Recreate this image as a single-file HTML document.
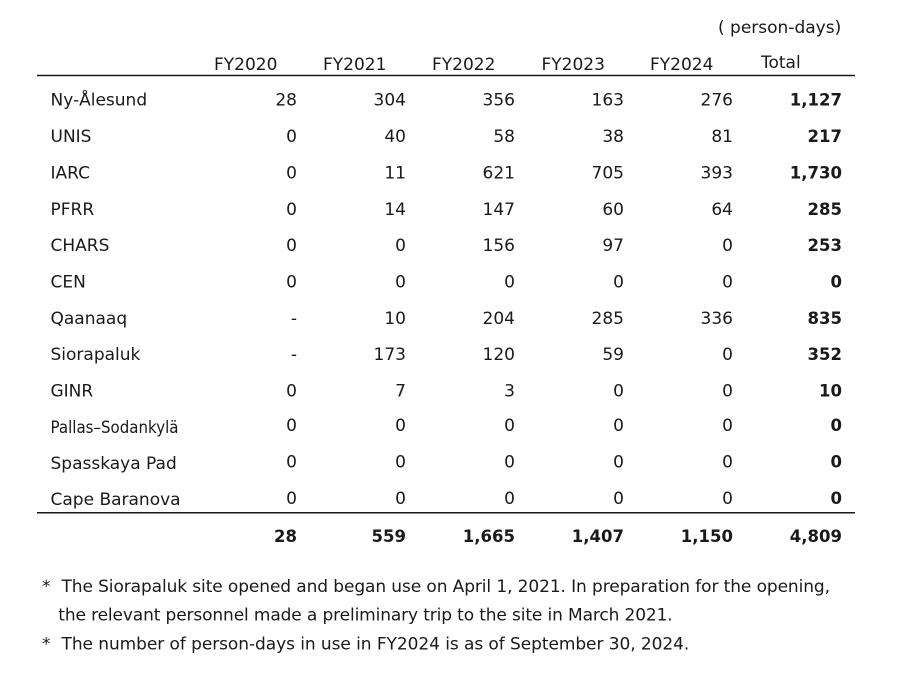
<!DOCTYPE html>
<html>
<head>
<meta charset="utf-8">
<style>
  html, body { margin:0; padding:0; background:#fff; }
  svg { display:block; }
  text { font-family: "DejaVu Sans", "Liberation Sans", sans-serif; font-size:17px; fill:#1a1a1a; }
  .n { text-anchor:end; }
  .b { font-weight:bold; font-size:16.5px; }
</style>
</head>
<body>
<svg width="900" height="683" viewBox="0 0 900 683" xmlns="http://www.w3.org/2000/svg">
  <text x="718" y="33">( person-days)</text>

  <text x="214" y="70">FY2020</text>
  <text x="323" y="70">FY2021</text>
  <text x="432" y="70">FY2022</text>
  <text x="541.5" y="70">FY2023</text>
  <text x="650" y="70">FY2024</text>
  <text x="761" y="68">Total</text>

  <line x1="37" y1="75.5" x2="855" y2="75.5" stroke="#1a1a1a" stroke-width="1.5"/>

  <!-- rows -->
  <g>
    <text x="50.5" y="105.7">Ny-Ålesund</text>
    <text class="n" x="297" y="105.7">28</text>
    <text class="n" x="406" y="105.7">304</text>
    <text class="n" x="515" y="105.7">356</text>
    <text class="n" x="624" y="105.7">163</text>
    <text class="n" x="733" y="105.7">276</text>
    <text class="n b" x="842" y="105.7">1,127</text>

    <text x="50.5" y="142.05">UNIS</text>
    <text class="n" x="297" y="142.05">0</text>
    <text class="n" x="406" y="142.05">40</text>
    <text class="n" x="515" y="142.05">58</text>
    <text class="n" x="624" y="142.05">38</text>
    <text class="n" x="733" y="142.05">81</text>
    <text class="n b" x="842" y="142.05">217</text>

    <text x="50.5" y="178.4">IARC</text>
    <text class="n" x="297" y="178.4">0</text>
    <text class="n" x="406" y="178.4">11</text>
    <text class="n" x="515" y="178.4">621</text>
    <text class="n" x="624" y="178.4">705</text>
    <text class="n" x="733" y="178.4">393</text>
    <text class="n b" x="842" y="178.4">1,730</text>

    <text x="50.5" y="214.75">PFRR</text>
    <text class="n" x="297" y="214.75">0</text>
    <text class="n" x="406" y="214.75">14</text>
    <text class="n" x="515" y="214.75">147</text>
    <text class="n" x="624" y="214.75">60</text>
    <text class="n" x="733" y="214.75">64</text>
    <text class="n b" x="842" y="214.75">285</text>

    <text x="50.5" y="251.1">CHARS</text>
    <text class="n" x="297" y="251.1">0</text>
    <text class="n" x="406" y="251.1">0</text>
    <text class="n" x="515" y="251.1">156</text>
    <text class="n" x="624" y="251.1">97</text>
    <text class="n" x="733" y="251.1">0</text>
    <text class="n b" x="842" y="251.1">253</text>

    <text x="50.5" y="287.45">CEN</text>
    <text class="n" x="297" y="287.45">0</text>
    <text class="n" x="406" y="287.45">0</text>
    <text class="n" x="515" y="287.45">0</text>
    <text class="n" x="624" y="287.45">0</text>
    <text class="n" x="733" y="287.45">0</text>
    <text class="n b" x="842" y="287.45">0</text>

    <text x="50.5" y="323.8">Qaanaaq</text>
    <text class="n" x="297" y="323.8">-</text>
    <text class="n" x="406" y="323.8">10</text>
    <text class="n" x="515" y="323.8">204</text>
    <text class="n" x="624" y="323.8">285</text>
    <text class="n" x="733" y="323.8">336</text>
    <text class="n b" x="842" y="323.8">835</text>

    <text x="50.5" y="360.15">Siorapaluk</text>
    <text class="n" x="297" y="360.15">-</text>
    <text class="n" x="406" y="360.15">173</text>
    <text class="n" x="515" y="360.15">120</text>
    <text class="n" x="624" y="360.15">59</text>
    <text class="n" x="733" y="360.15">0</text>
    <text class="n b" x="842" y="360.15">352</text>

    <text x="50.5" y="396.5">GINR</text>
    <text class="n" x="297" y="396.5">0</text>
    <text class="n" x="406" y="396.5">7</text>
    <text class="n" x="515" y="396.5">3</text>
    <text class="n" x="624" y="396.5">0</text>
    <text class="n" x="733" y="396.5">0</text>
    <text class="n b" x="842" y="396.5">10</text>

    <text x="50.5" y="432.85" font-size="16" textLength="128" lengthAdjust="spacingAndGlyphs">Pallas–Sodankylä</text>
    <text class="n" x="297" y="430.85">0</text>
    <text class="n" x="406" y="430.85">0</text>
    <text class="n" x="515" y="430.85">0</text>
    <text class="n" x="624" y="430.85">0</text>
    <text class="n" x="733" y="430.85">0</text>
    <text class="n b" x="842" y="430.85">0</text>

    <text x="50.5" y="469.2">Spasskaya Pad</text>
    <text class="n" x="297" y="467.7">0</text>
    <text class="n" x="406" y="467.7">0</text>
    <text class="n" x="515" y="467.7">0</text>
    <text class="n" x="624" y="467.7">0</text>
    <text class="n" x="733" y="467.7">0</text>
    <text class="n b" x="842" y="467.7">0</text>

    <text x="50.5" y="505.2">Cape Baranova</text>
    <text class="n" x="297" y="504">0</text>
    <text class="n" x="406" y="504">0</text>
    <text class="n" x="515" y="504">0</text>
    <text class="n" x="624" y="504">0</text>
    <text class="n" x="733" y="504">0</text>
    <text class="n b" x="842" y="504">0</text>
  </g>

  <line x1="37" y1="512.8" x2="855" y2="512.8" stroke="#1a1a1a" stroke-width="1.5"/>

  <text class="n b" x="297" y="542">28</text>
  <text class="n b" x="406" y="542">559</text>
  <text class="n b" x="515" y="542">1,665</text>
  <text class="n b" x="624" y="542">1,407</text>
  <text class="n b" x="733" y="542">1,150</text>
  <text class="n b" x="842" y="542">4,809</text>

  <!-- footnotes -->
  <text x="42" y="592">*</text>
  <text x="61.5" y="592" textLength="768.5" lengthAdjust="spacing">The Siorapaluk site opened and began use on April 1, 2021. In preparation for the opening,</text>
  <text x="58.3" y="620.7" textLength="614.4" lengthAdjust="spacing">the relevant personnel made a preliminary trip to the site in March 2021.</text>
  <text x="42" y="649.3">*</text>
  <text x="61.5" y="649.3" textLength="627.8" lengthAdjust="spacing">The number of person-days in use in FY2024 is as of September 30, 2024.</text>
</svg>
</body>
</html>
